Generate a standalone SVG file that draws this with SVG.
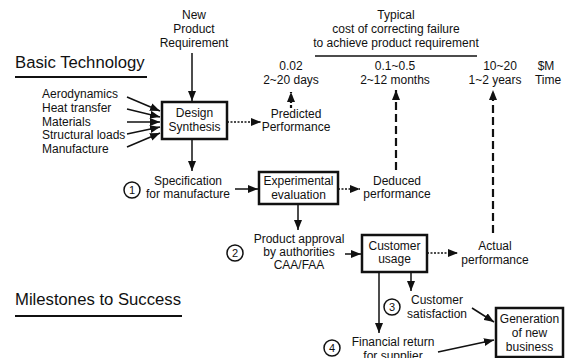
<svg xmlns="http://www.w3.org/2000/svg" width="566" height="358" viewBox="0 0 566 358">
<style>
text{font-family:"Liberation Sans",Arial,sans-serif;font-size:12px;fill:#111}
.c{text-anchor:middle}
.h{font-size:16.7px}
.n{font-size:11px;text-anchor:middle}
.box{fill:#fff;stroke:#111;stroke-width:2.5}
.circ{fill:#fff;stroke:#111;stroke-width:1.5}
.a{stroke:#111;stroke-width:1.5;fill:none;marker-end:url(#ah)}
.d{stroke:#111;stroke-width:1.5;fill:none;stroke-dasharray:2 1.5;marker-end:url(#ah)}
.dash{stroke:#111;stroke-width:2.2;fill:none;stroke-dasharray:8 4;marker-end:url(#ah2)}
.rule{stroke:#111;stroke-width:2}
</style>
<defs>
<marker id="ah" viewBox="0 0 10 8" refX="10" refY="4" markerWidth="10" markerHeight="8" markerUnits="userSpaceOnUse" orient="auto"><path d="M0,0 L10,4 L0,8 z" fill="#111"/></marker>
<marker id="ah2" viewBox="0 0 10 8" refX="10" refY="4" markerWidth="11" markerHeight="8" markerUnits="userSpaceOnUse" orient="auto"><path d="M0,0 L10,4 L0,8 z" fill="#111"/></marker>
</defs>

<g id="headings">
<text class="h" x="15" y="68">Basic Technology</text>
<line class="rule" x1="15" y1="77" x2="147" y2="77"/>
<text class="h" x="15" y="305">Milestones to Success</text>
<line class="rule" x1="15" y1="316" x2="182" y2="316"/>
</g>

<g id="cost-header">
<text class="c" x="396" y="19">Typical</text>
<text class="c" x="396" y="33">cost of correcting failure</text>
<text class="c" x="396" y="47">to achieve product requirement</text>
<line x1="315" y1="56" x2="477" y2="56" stroke="#111" stroke-width="1.5"/>
<text class="c" x="291" y="70">0.02</text>
<text class="c" x="291" y="84">2~20 days</text>
<text class="c" x="395" y="70">0.1~0.5</text>
<text class="c" x="395" y="84">2~12 months</text>
<text class="c" x="500" y="70">10~20</text>
<text class="c" x="495" y="84">1~2 years</text>
<text class="c" x="546" y="70">$M</text>
<text class="c" x="548" y="84">Time</text>
</g>

<g id="new-product-requirement">
<text class="c" x="194" y="19">New</text>
<text class="c" x="194" y="33">Product</text>
<text class="c" x="194" y="47">Requirement</text>
</g>

<g id="inputs">
<text x="42" y="98">Aerodynamics</text>
<text x="42" y="112">Heat transfer</text>
<text x="42" y="126">Materials</text>
<text x="42" y="139">Structural loads</text>
<text x="42" y="153">Manufacture</text>
</g>

<g id="design-synthesis">
<rect class="box" x="162" y="102" width="65" height="37"/>
<text class="c" x="194.5" y="117">Design</text>
<text class="c" x="194.5" y="131">Synthesis</text>
</g>

<g id="predicted-performance">
<text class="c" x="296" y="118">Predicted</text>
<text class="c" x="296" y="131">Performance</text>
</g>

<g id="specification">
<circle class="circ" cx="132" cy="190" r="8"/>
<text class="n" x="132" y="194">1</text>
<text class="c" x="188" y="185">Specification</text>
<text class="c" x="188" y="198">for manufacture</text>
</g>

<g id="experimental-evaluation">
<rect class="box" x="259" y="172" width="79" height="32"/>
<text class="c" x="298.5" y="185">Experimental</text>
<text class="c" x="298.5" y="198.5">evaluation</text>
</g>

<g id="deduced-performance">
<text class="c" x="397" y="185">Deduced</text>
<text class="c" x="397" y="198">performance</text>
</g>

<g id="product-approval">
<circle class="circ" cx="235" cy="253" r="8"/>
<text class="n" x="235" y="257">2</text>
<text class="c" x="299" y="243">Product approval</text>
<text class="c" x="299" y="256">by authorities</text>
<text class="c" x="299" y="269">CAA/FAA</text>
</g>

<g id="customer-usage">
<rect class="box" x="362" y="235" width="65" height="37"/>
<text class="c" x="394.5" y="250">Customer</text>
<text class="c" x="394.5" y="263">usage</text>
</g>

<g id="actual-performance">
<text class="c" x="495" y="250">Actual</text>
<text class="c" x="495" y="264">performance</text>
</g>

<g id="customer-satisfaction">
<circle class="circ" cx="392" cy="307" r="8"/>
<text class="n" x="392" y="311">3</text>
<text class="c" x="437" y="304">Customer</text>
<text class="c" x="437" y="318">satisfaction</text>
</g>

<g id="financial-return">
<circle class="circ" cx="332" cy="348" r="8"/>
<text class="n" x="332" y="352">4</text>
<text class="c" x="393" y="346">Financial return</text>
<text class="c" x="393" y="360">for supplier</text>
</g>

<g id="generation-of-new-business">
<rect class="box" x="496" y="308" width="67" height="49"/>
<text class="c" x="529.5" y="323">Generation</text>
<text class="c" x="529.5" y="337">of new</text>
<text class="c" x="529.5" y="351">business</text>
</g>

<g id="connectors">
<line class="a" x1="192" y1="53" x2="192" y2="101"/>
<line class="a" x1="127" y1="97" x2="160" y2="111"/>
<line class="a" x1="127" y1="109" x2="160" y2="117"/>
<line class="a" x1="127" y1="122" x2="160" y2="122"/>
<line class="a" x1="127" y1="134" x2="160" y2="127"/>
<line class="a" x1="127" y1="147" x2="160" y2="133"/>
<line class="a" x1="192" y1="139" x2="192" y2="171"/>
<line class="d" x1="227" y1="122" x2="261" y2="122"/>
<line class="dash" x1="291" y1="108" x2="291" y2="92" style="stroke-dasharray:3 2"/>
<line class="a" x1="235" y1="189" x2="258" y2="189"/>
<line class="d" x1="338" y1="189" x2="360" y2="189"/>
<line class="a" x1="298" y1="204" x2="298" y2="230"/>
<line class="dash" x1="396" y1="170" x2="396" y2="90"/>
<line class="a" x1="345" y1="254" x2="361" y2="254"/>
<line class="d" x1="427" y1="253" x2="458" y2="253"/>
<line class="dash" x1="493" y1="233" x2="493" y2="90"/>
<line class="a" x1="411" y1="272" x2="411" y2="291"/>
<line class="a" x1="379" y1="272" x2="379" y2="333"/>
<line class="a" x1="472" y1="308" x2="494" y2="322"/>
<line class="a" x1="438" y1="352" x2="494" y2="340"/>
</g>
</svg>
